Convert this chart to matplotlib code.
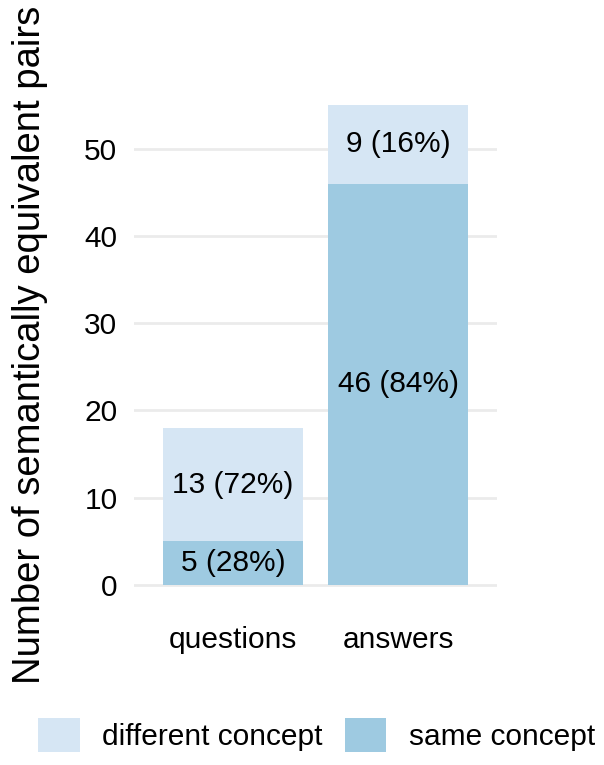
import matplotlib
matplotlib.use("Agg")
from matplotlib import pyplot as plt
from matplotlib.patches import Patch

# data
categories = ["questions", "answers"]
same = [5, 46]
different = [13, 9]
same_labels = ["5 (28%)", "46 (84%)"]
diff_labels = ["13 (72%)", "9 (16%)"]

light = "#d6e6f4"
dark = "#9ecae1"

plt.rcParams["font.family"] = ["Liberation Sans", "DejaVu Sans"]

fig = plt.figure(figsize=(6.04, 7.65), dpi=100)
ax = fig.add_axes([0.222, 0.204, 0.601, 0.690])

x = list(range(len(categories)))
ax.bar(x, same, width=0.85, color=dark, zorder=2)
ax.bar(x, different, bottom=same, width=0.85, color=light, zorder=2)

for i in x:
    ax.text(i, same[i] / 2, same_labels[i], ha="center", va="center", fontsize=21.5, zorder=3)
    ax.text(i, same[i] + different[i] / 2, diff_labels[i], ha="center", va="center",
            fontsize=21.5, zorder=3)

ax.set_xlim(-0.6, 1.6)
ax.set_ylim(-2.75, 57.75)
ax.set_yticks([0, 10, 20, 30, 40, 50])
ax.set_xticks(x)
ax.set_xticklabels(categories)
ax.tick_params(axis="both", length=0, labelsize=21.5)
ax.tick_params(axis="y", pad=12)
ax.tick_params(axis="x", pad=12)
ax.yaxis.grid(True, color="#ebebeb", linewidth=2, zorder=0)
for s in ax.spines.values():
    s.set_visible(False)
ax.set_ylabel("Number of semantically equivalent pairs", fontsize=27.5, labelpad=26)

handles = [Patch(facecolor=light, label="different concept"),
           Patch(facecolor=dark, label="same concept")]
fig.legend(handles=handles, loc="center", bbox_to_anchor=(0.524, 0.039), ncol=2,
           frameon=False, fontsize=21.5, handlelength=1.4, handleheight=1.4,
           handletextpad=0.74, columnspacing=0.74, borderpad=0)

fig.savefig("out.png", dpi=100)
